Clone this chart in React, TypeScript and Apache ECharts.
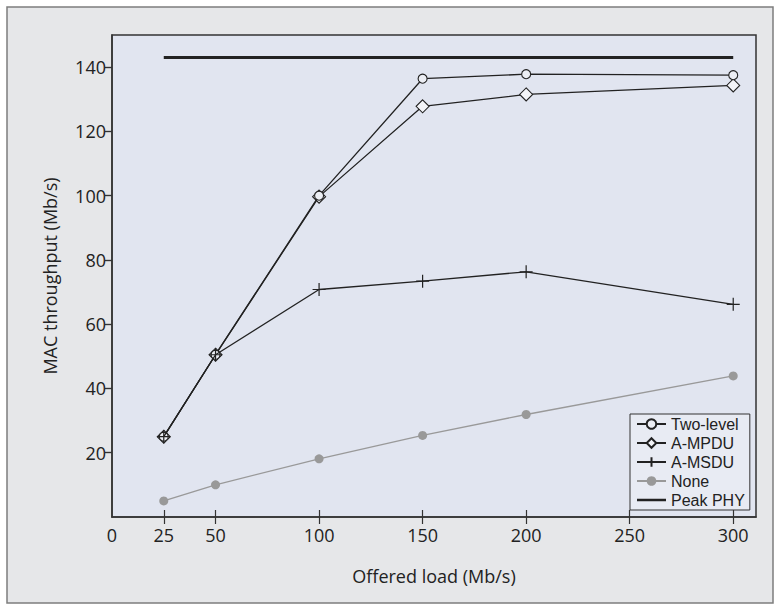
import React, { useEffect, useRef } from "react";
import * as echarts from "echarts";

const loads = [25, 50, 100, 150, 200, 300];
const twoLevel = [25, 50.5, 100, 136.4, 137.8, 137.5];
const aMpdu = [25, 50.5, 99.7, 127.8, 131.5, 134.3];
const aMsdu = [25, 50.5, 70.8, 73.4, 76.3, 66.2];
const none = [5, 10, 18.1, 25.4, 31.9, 43.9];
const peakPhyX = [25, 300];
const peakPhy = [143, 143];
const xTicks = [25, 50, 100, 150, 200, 250, 300];
const xLabels = [0, 25, 50, 100, 150, 200, 250, 300];
const yTicks = [20, 40, 60, 80, 100, 120, 140];

const FONT = "'Open Sans', 'Noto Sans', sans-serif";
const LEGEND_FONT = "'Liberation Sans', Arial, sans-serif";
const INK = "#222";

function pairs(xs: number[], ys: number[]) {
  return xs.map((x, i) => [x, ys[i]]);
}

export default function App() {
  const ref = useRef<HTMLDivElement>(null);
  useEffect(() => {
    if (!ref.current) return;
    const chart = echarts.init(ref.current, null, { renderer: "svg" });
    const crossPath = "path://M0,5L10,5M5,0L5,10";
    const thickLine = "path://M0,0L0.01,0M0,4.6L30,4.6L30,7.4L0,7.4ZM0,12L0.01,12";
    chart.setOption({
      animation: false,
      textStyle: { fontFamily: FONT },
      graphic: [
        {
          type: "rect",
          z: -10,
          shape: { x: 7, y: 7, width: 766, height: 596 },
          style: { fill: "#e6e7e9", stroke: "#7d7d7d", lineWidth: 1.5 },
        },
      ],
      grid: {
        left: 112,
        top: 35,
        right: 25,
        bottom: 94,
        show: true,
        backgroundColor: "#e1e5f0",
        borderColor: "#333",
        borderWidth: 1.5,
      },
      legend: {
        orient: "vertical",
        left: 630,
        top: 414,
        itemWidth: 29,
        itemHeight: 12,
        itemGap: 3,
        padding: [2, 5, 2, 6],
        backgroundColor: "#e8ebf3",
        borderColor: "#333",
        borderWidth: 1,
        borderRadius: 0,
        textStyle: { fontFamily: LEGEND_FONT, fontSize: 16, color: INK, lineHeight: 16 },
        data: [
          "Two-level",
          "A-MPDU",
          "A-MSDU",
          "None",
          { name: "Peak PHY", icon: thickLine, itemStyle: { color: INK, borderWidth: 0 } },
        ],
      },
      xAxis: [
        {
          type: "value",
          min: 0,
          max: 311,
          position: "bottom",
          name: "Offered load (Mb/s)",
          nameLocation: "middle",
          nameGap: 50,
          nameTextStyle: { fontFamily: FONT, fontSize: 18, color: INK },
          splitLine: { show: false },
          axisLine: { show: true, lineStyle: { color: "#333", width: 1.5 } },
          axisTick: {
            show: true,
            inside: true,
            length: 7,
            customValues: xTicks,
            lineStyle: { color: "#333", width: 1.2 },
          },
          axisLabel: {
            customValues: xLabels,
            margin: 9,
            fontFamily: FONT,
            fontSize: 18,
            color: INK,
          },
        },
        {
          type: "value",
          min: 0,
          max: 311,
          position: "top",
          splitLine: { show: false },
          axisLine: { show: false },
          axisTick: {
            show: true,
            inside: true,
            length: 7,
            customValues: xTicks,
            lineStyle: { color: "#333", width: 1.2 },
          },
          axisLabel: { show: false },
        },
      ],
      yAxis: [
        {
          type: "value",
          min: 0,
          max: 150,
          position: "left",
          name: "MAC throughput (Mb/s)",
          nameLocation: "middle",
          nameGap: 53,
          nameTextStyle: { fontFamily: FONT, fontSize: 18, color: INK },
          splitLine: { show: false },
          axisLine: { show: true, lineStyle: { color: "#333", width: 1.5 } },
          axisTick: {
            show: true,
            inside: false,
            length: 7,
            customValues: yTicks,
            lineStyle: { color: "#333", width: 1.2 },
          },
          axisLabel: {
            customValues: yTicks,
            margin: 6,
            fontFamily: FONT,
            fontSize: 18,
            color: INK,
          },
        },
        {
          type: "value",
          min: 0,
          max: 150,
          position: "right",
          splitLine: { show: false },
          axisLine: { show: false },
          axisTick: {
            show: true,
            inside: true,
            length: 7,
            customValues: yTicks,
            lineStyle: { color: "#333", width: 1.2 },
          },
          axisLabel: { show: false },
        },
      ],
      series: [
        {
          name: "Two-level",
          type: "line",
          data: pairs(loads, twoLevel),
          symbol: "circle",
          symbolSize: 9,
          lineStyle: { color: INK, width: 1.3 },
          itemStyle: { color: "#eceef4", borderColor: INK, borderWidth: 1.1 },
          z: 4,
        },
        {
          name: "A-MPDU",
          type: "line",
          data: pairs(loads, aMpdu),
          symbol: "diamond",
          symbolSize: 13,
          lineStyle: { color: INK, width: 1.3 },
          itemStyle: { color: "#f3f4f8", borderColor: INK, borderWidth: 1.1 },
          z: 3,
        },
        {
          name: "A-MSDU",
          type: "line",
          data: pairs(loads, aMsdu),
          symbol: crossPath,
          symbolSize: 13,
          lineStyle: { color: INK, width: 1.3 },
          itemStyle: { color: INK, borderColor: INK, borderWidth: 1.2 },
          z: 5,
        },
        {
          name: "None",
          type: "line",
          data: pairs(loads, none),
          symbol: "circle",
          symbolSize: 9,
          lineStyle: { color: "#999", width: 1.3 },
          itemStyle: { color: "#999", borderWidth: 0 },
        },
        {
          name: "Peak PHY",
          type: "line",
          data: pairs(peakPhyX, peakPhy),
          symbol: "none",
          lineStyle: { color: INK, width: 3 },
          itemStyle: { color: INK },
        },
      ],
    });
    return () => chart.dispose();
  }, []);
  return <div ref={ref} style={{ width: 781, height: 611, position: "absolute", left: 0, top: 0 }} />;
}
